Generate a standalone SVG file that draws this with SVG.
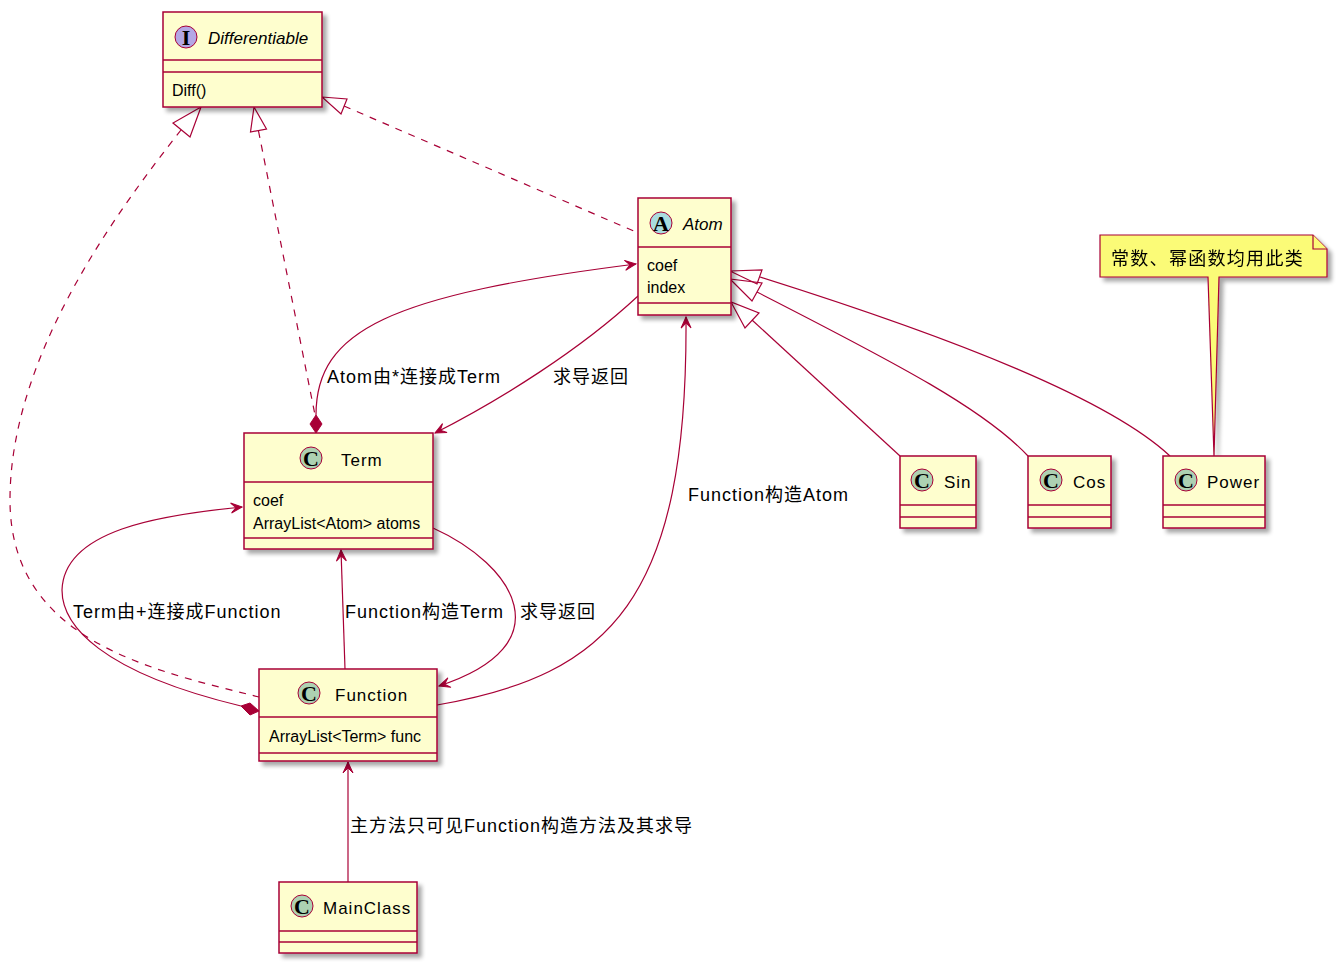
<svg xmlns="http://www.w3.org/2000/svg" width="1343" height="969" viewBox="0 0 1343 969">
<style>
.box{fill:#FEFECE;stroke:#A80036;stroke-width:1.5}
.sep{stroke:#A80036;stroke-width:1.5}
.ico{stroke:#A80036;stroke-width:1}
.icoC{fill:#ADD1B2}
.icoA{fill:#A9DCDF}
.icoI{fill:#B4A7E5}
.icl{font-family:"Liberation Serif",serif;font-weight:bold;font-size:22px;fill:#000;text-anchor:middle}
.nm{font-family:"Liberation Sans","Noto Sans CJK SC",sans-serif;font-size:17px;letter-spacing:1px;fill:#000}
.nmi{font-family:"Liberation Sans","Noto Sans CJK SC",sans-serif;font-size:17px;font-style:italic;fill:#000}
.at{font-family:"Liberation Sans","Noto Sans CJK SC",sans-serif;font-size:16px;fill:#000}
.lb{font-family:"Liberation Sans","Noto Sans CJK SC",sans-serif;font-size:18px;letter-spacing:1px;fill:#000}
.ln{fill:none;stroke:#A80036;stroke-width:1.2}
.dash{stroke-dasharray:7,7}
.tri{fill:none;stroke:#A80036;stroke-width:1.2}
.dia{fill:#A80036;stroke:#A80036;stroke-width:1}
.note{fill:#FBFB77;stroke:#A80036;stroke-width:1.2}
</style>
<defs>
<filter id="sh" x="-20%" y="-20%" width="150%" height="150%">
<feGaussianBlur in="SourceAlpha" stdDeviation="2"/>
<feOffset dx="4" dy="4" result="b"/>
<feComponentTransfer><feFuncA type="linear" slope="0.35"/></feComponentTransfer>
<feMerge><feMergeNode/><feMergeNode in="SourceGraphic"/></feMerge>
</filter>
<marker id="arr" viewBox="-12 -6 14 12" refX="0" refY="0" markerWidth="14" markerHeight="12" markerUnits="userSpaceOnUse" orient="auto">
<path d="M0,0 L-11,-5 L-6,0 L-11,5 Z" fill="#A80036" stroke="#A80036" stroke-width="1"/>
</marker>
</defs>
<rect width="1343" height="969" fill="#FFFFFF"/>

<g id="connectors">
<path class="ln dash" d="M344,106 L636,232"/>
<polygon class="tri" points="322,97 347,99 341,114"/>
<path class="ln dash" d="M258.5,131 L316,420"/>
<polygon class="tri" points="254,107 266.5,129 250.5,132"/>
<path class="ln dash" d="M181,130 C110,220 10,360 10,500 C10,640 150,670 259,697"/>
<polygon class="tri" points="201,107 173,123 190,137"/>
<path class="ln" d="M316,415 C316,330 390,295 636,264" marker-end="url(#arr)"/>
<polygon class="dia" points="316,433 322,424 316,415 310,424"/>
<text class="lb" x="327" y="383">Atom由*连接成Term</text>
<path class="ln" d="M638,296 C580,350 500,400 435,433" marker-end="url(#arr)"/>
<text class="lb" x="553" y="383">求导返回</text>
<path class="ln" d="M437,705 C610,675 688,600 686,317" marker-end="url(#arr)"/>
<text class="lb" x="688" y="501">Function构造Atom</text>
<path class="ln" d="M433,528 C515,565 565,645 439,686" marker-end="url(#arr)"/>
<text class="lb" x="520" y="618">求导返回</text>
<path class="ln" d="M345,669 L341,550" marker-end="url(#arr)"/>
<text class="lb" x="345" y="618">Function构造Term</text>
<path class="ln" d="M241,706 C100,672 62,625 62,590 C64,530 160,515 242,507" marker-end="url(#arr)"/>
<polygon class="dia" points="259,711 250,703 241,706 250,715"/>
<text class="lb" x="73" y="618">Term由+连接成Function</text>
<path class="ln" d="M348,882 L348,762" marker-end="url(#arr)"/>
<text class="lb" x="350" y="832">主方法只可见Function构造方法及其求导</text>
<path class="ln" d="M752,320 L900,456"/>
<polygon class="tri" points="731,302 745,328 759,313"/>
<path class="ln" d="M757,292 C900,365 985,410 1028,456"/>
<polygon class="tri" points="730,279 752,301 762,283"/>
<path class="ln" d="M760,277 C960,340 1110,400 1170,456"/>
<polygon class="tri" points="730,271 762,270 757,284"/>
</g>

<g id="note" filter="url(#sh)">
<path class="note" d="M1100,235 L1313,235 L1327,249 L1327,277 L1219,277 L1214,456 L1208,277 L1100,277 Z"/>
<path class="note" d="M1313,235 L1313,249 L1327,249"/>
<text class="lb" x="1111" y="265" style="letter-spacing:1.3px">常数、幂函数均用此类</text>
</g>

<g id="Differentiable">
<rect class="box" x="163" y="12" width="159" height="95" filter="url(#sh)"/>
<line class="sep" x1="163" y1="60" x2="322" y2="60"/>
<line class="sep" x1="163" y1="72" x2="322" y2="72"/>
<circle class="ico icoI" cx="186" cy="37" r="11"/>
<text class="icl" x="186" y="45">I</text>
<text class="nmi" x="208" y="44">Differentiable</text>
<text class="at" x="172" y="96">Diff()</text>
</g>

<g id="Atom">
<rect class="box" x="638" y="198" width="93" height="117" filter="url(#sh)"/>
<line class="sep" x1="638" y1="247" x2="731" y2="247"/>
<line class="sep" x1="638" y1="303" x2="731" y2="303"/>
<circle class="ico icoA" cx="661" cy="223" r="11"/>
<text class="icl" x="661" y="231">A</text>
<text class="nmi" x="683" y="230">Atom</text>
<text class="at" x="647" y="271">coef</text>
<text class="at" x="647" y="293">index</text>
</g>

<g id="Term">
<rect class="box" x="244" y="433" width="189" height="116" filter="url(#sh)"/>
<line class="sep" x1="244" y1="482" x2="433" y2="482"/>
<line class="sep" x1="244" y1="538" x2="433" y2="538"/>
<circle class="ico icoC" cx="311" cy="458" r="11"/>
<text class="icl" x="311" y="466">C</text>
<text class="nm" x="341" y="466">Term</text>
<text class="at" x="253" y="506">coef</text>
<text class="at" x="253" y="529">ArrayList&lt;Atom&gt; atoms</text>
</g>

<g id="Function">
<rect class="box" x="259" y="669" width="178" height="92" filter="url(#sh)"/>
<line class="sep" x1="259" y1="717" x2="437" y2="717"/>
<line class="sep" x1="259" y1="753" x2="437" y2="753"/>
<circle class="ico icoC" cx="309" cy="693" r="11"/>
<text class="icl" x="309" y="701">C</text>
<text class="nm" x="335" y="701">Function</text>
<text class="at" x="269" y="742">ArrayList&lt;Term&gt; func</text>
</g>

<g id="Sin">
<rect class="box" x="900" y="456" width="76" height="72" filter="url(#sh)"/>
<line class="sep" x1="900" y1="505" x2="976" y2="505"/>
<line class="sep" x1="900" y1="517" x2="976" y2="517"/>
<circle class="ico icoC" cx="922" cy="480" r="11"/>
<text class="icl" x="922" y="488">C</text>
<text class="nm" x="944" y="488">Sin</text>
</g>

<g id="Cos">
<rect class="box" x="1028" y="456" width="83" height="72" filter="url(#sh)"/>
<line class="sep" x1="1028" y1="505" x2="1111" y2="505"/>
<line class="sep" x1="1028" y1="517" x2="1111" y2="517"/>
<circle class="ico icoC" cx="1051" cy="480" r="11"/>
<text class="icl" x="1051" y="488">C</text>
<text class="nm" x="1073" y="488">Cos</text>
</g>

<g id="Power">
<rect class="box" x="1163" y="456" width="102" height="72" filter="url(#sh)"/>
<line class="sep" x1="1163" y1="505" x2="1265" y2="505"/>
<line class="sep" x1="1163" y1="517" x2="1265" y2="517"/>
<circle class="ico icoC" cx="1186" cy="480" r="11"/>
<text class="icl" x="1186" y="488">C</text>
<text class="nm" x="1207" y="488">Power</text>
</g>

<g id="MainClass">
<rect class="box" x="279" y="882" width="138" height="71" filter="url(#sh)"/>
<line class="sep" x1="279" y1="931" x2="417" y2="931"/>
<line class="sep" x1="279" y1="942" x2="417" y2="942"/>
<circle class="ico icoC" cx="302" cy="906" r="11"/>
<text class="icl" x="302" y="914">C</text>
<text class="nm" x="323" y="914">MainClass</text>
</g>
</svg>
